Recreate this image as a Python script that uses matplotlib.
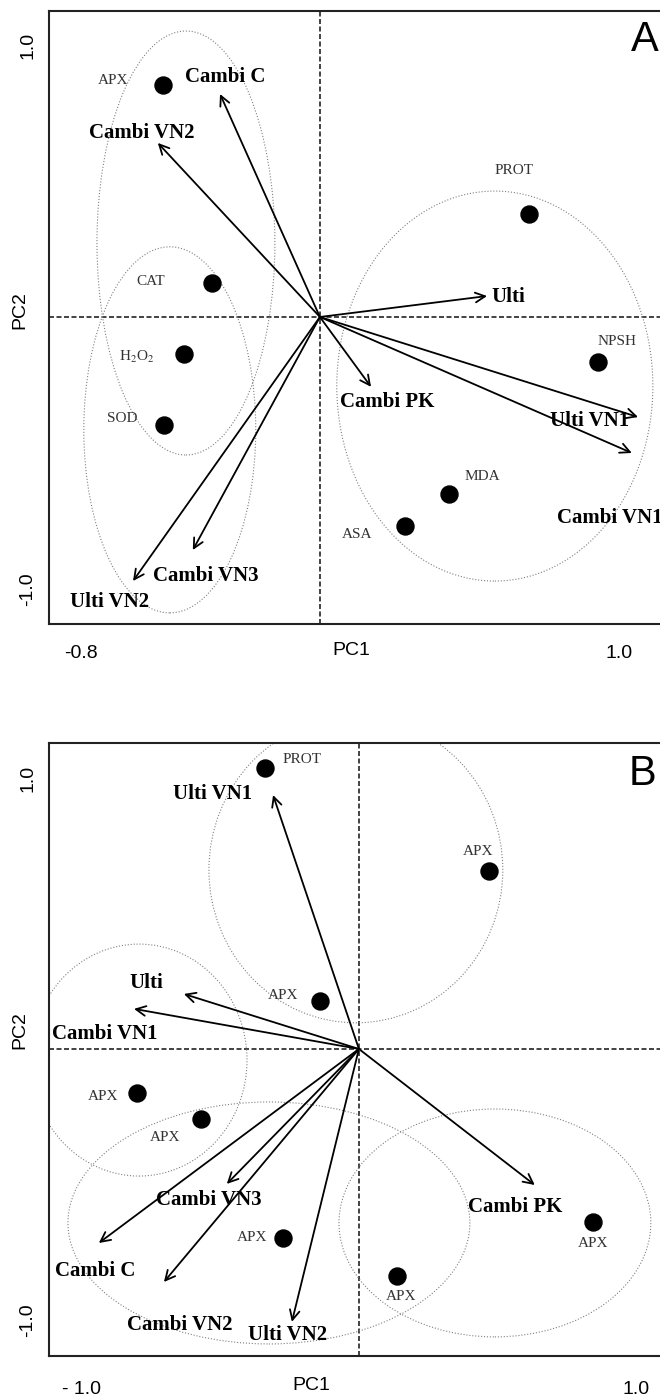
import matplotlib
matplotlib.use('Agg')
import matplotlib.pyplot as plt
from matplotlib.patches import Ellipse

plt.rcParams['font.family'] = ['Liberation Sans', 'DejaVu Sans']
plt.rcParams['mathtext.fontset'] = 'stix'

# ---- panel A : variable arrows (PC1, PC2)
a_var = ['Cambi C', 'Cambi VN2', 'Ulti', 'Cambi PK', 'Ulti VN1', 'Cambi VN1', 'Cambi VN3', 'Ulti VN2']
a_var_x = [-0.334, -0.542, 0.559, 0.171, 1.064, 1.043, -0.425, -0.625]
a_var_y = [0.820, 0.640, 0.077, -0.257, -0.368, -0.500, -0.857, -0.971]
a_var_lx = [-0.318, -0.595, 0.629, 0.224, 0.903, 0.970, -0.381, -0.702]
a_var_ly = [0.882, 0.676, 0.074, -0.313, -0.382, -0.739, -0.952, -1.048]

# panel A : scores
a_pts = ['APX', 'CAT', r'H$_2$O$_2$', 'SOD', 'PROT', 'NPSH', 'MDA', 'ASA']
a_pts_x = [-0.525, -0.361, -0.455, -0.522, 0.699, 0.930, 0.431, 0.284]
a_pts_y = [0.853, 0.125, -0.136, -0.397, 0.379, -0.165, -0.651, -0.768]
a_pts_lx = [-0.692, -0.565, -0.612, -0.662, 0.649, 0.993, 0.542, 0.124]
a_pts_ly = [0.871, 0.129, -0.147, -0.375, 0.540, -0.092, -0.585, -0.801]

# panel A : groups (centre, width, height)
a_ell_cx = [-0.448, -0.502, 0.585]
a_ell_cy = [0.272, -0.415, -0.254]
a_ell_w = [0.595, 0.575, 1.057]
a_ell_h = [1.559, 1.346, 1.434]

# ---- panel B
b_var = ['Ulti VN1', 'Ulti', 'Cambi VN1', 'Cambi VN3', 'Cambi C', 'Cambi VN2', 'Ulti VN2', 'Cambi PK']
b_var_x = [-0.310, -0.632, -0.812, -0.477, -0.939, -0.704, -0.242, 0.635]
b_var_y = [0.937, 0.203, 0.148, -0.498, -0.716, -0.860, -1.007, -0.502]
b_var_lx = [-0.527, -0.769, -0.917, -0.542, -0.953, -0.646, -0.256, 0.563]
b_var_ly = [0.941, 0.244, 0.055, -0.557, -0.819, -1.018, -1.055, -0.583]

b_pts = ['PROT', 'APX', 'APX', 'APX', 'APX', 'APX', 'APX', 'APX']
b_pts_x = [-0.339, 0.469, -0.141, -0.801, -0.570, -0.274, 0.845, 0.137]
b_pts_y = [1.037, 0.657, 0.177, -0.162, -0.258, -0.697, -0.638, -0.838]
b_pts_lx = [-0.206, 0.430, -0.274, -0.924, -0.700, -0.386, 0.845, 0.152]
b_pts_ly = [1.070, 0.727, 0.199, -0.177, -0.325, -0.697, -0.716, -0.915]

b_ell_cx = [-0.011, -0.794, -0.325, 0.491]
b_ell_cy = [0.661, -0.041, -0.642, -0.642]
b_ell_w = [1.061, 0.780, 1.451, 1.126]
b_ell_h = [1.129, 0.856, 0.893, 0.841]


def biplot(ax, var, vx, vy, vlx, vly, pts, px, py, plx, ply, ecx, ecy, ew, eh, xl, yl, xt, xtl):
    ax.set_xlim(xl)
    ax.set_ylim(yl)
    ax.axhline(0, color='#222222', lw=1.2, ls=(0, (3, 1.5)), zorder=1)
    ax.axvline(0, color='#222222', lw=1.2, ls=(0, (3, 1.5)), zorder=1)
    for i in range(len(ecx)):
        ax.add_patch(Ellipse((ecx[i], ecy[i]), ew[i], eh[i], fill=False,
                             ec='#808080', lw=0.8, ls=':', zorder=2))
    for i in range(len(var)):
        ax.annotate('', xy=(vx[i], vy[i]), xytext=(0, 0),
                    arrowprops=dict(arrowstyle='->,head_length=0.7,head_width=0.35',
                                    color='black', lw=1.3, shrinkA=0, shrinkB=0),
                    zorder=3)
        ax.text(vlx[i], vly[i], var[i], ha='center', va='center', fontsize=15,
                fontweight='bold', family='Liberation Serif', zorder=4)
    ax.scatter(px, py, s=150, color='black', zorder=5)
    for i in range(len(pts)):
        ax.text(plx[i], ply[i], pts[i], ha='center', va='center', fontsize=11,
                family='Liberation Serif', color='#333333', zorder=4)
    ax.set_xticks(xt, xtl)
    ax.set_yticks([-1.0, 1.0], ['-1.0', '1.0'])
    ax.tick_params(length=0, labelsize=14)
    ax.tick_params(axis='y', pad=9)
    for lab in ax.get_yticklabels():
        lab.set_rotation(90)
        lab.set_va('center')
    for s in ['left', 'top', 'bottom']:
        ax.spines[s].set_linewidth(1.5)
        ax.spines[s].set_color('#222222')
    ax.spines['right'].set_visible(False)


fig = plt.figure(figsize=(6.6, 13.96), dpi=100)

ax1 = fig.add_axes([0.0742, 0.553, 0.956, 0.4391])
biplot(ax1, a_var, a_var_x, a_var_y, a_var_lx, a_var_ly,
       a_pts, a_pts_x, a_pts_y, a_pts_lx, a_pts_ly,
       a_ell_cx, a_ell_cy, a_ell_w, a_ell_h,
       (-0.906, 1.204), (-1.129, 1.125), [-0.8, 1.0], ['-0.8', '1.0'])
ax1.tick_params(axis='x', pad=15)
ax1.text(1.085, 1.02, 'A', ha='center', va='center', fontsize=30)
ax1.text(0.4786, -0.043, 'PC1', transform=ax1.transAxes, ha='center', va='center', fontsize=14)
ax1.text(-0.046, 0.512, 'PC2', transform=ax1.transAxes, ha='center', va='center',
         rotation=90, fontsize=14)

ax2 = fig.add_axes([0.0742, 0.02865, 0.956, 0.4391])
biplot(ax2, b_var, b_var_x, b_var_y, b_var_lx, b_var_ly,
       b_pts, b_pts_x, b_pts_y, b_pts_lx, b_pts_ly,
       b_ell_cx, b_ell_cy, b_ell_w, b_ell_h,
       (-1.119, 1.159), (-1.133, 1.129), [-1.0, 1.0], ['- 1.0', '1.0'])
ax2.tick_params(axis='x', pad=18)
ax2.text(1.025, 1.015, 'B', ha='center', va='center', fontsize=30)
ax2.text(0.415, -0.048, 'PC1', transform=ax2.transAxes, ha='center', va='center', fontsize=14)
ax2.text(-0.046, 0.532, 'PC2', transform=ax2.transAxes, ha='center', va='center',
         rotation=90, fontsize=14)

fig.savefig('out.png', dpi=100)
